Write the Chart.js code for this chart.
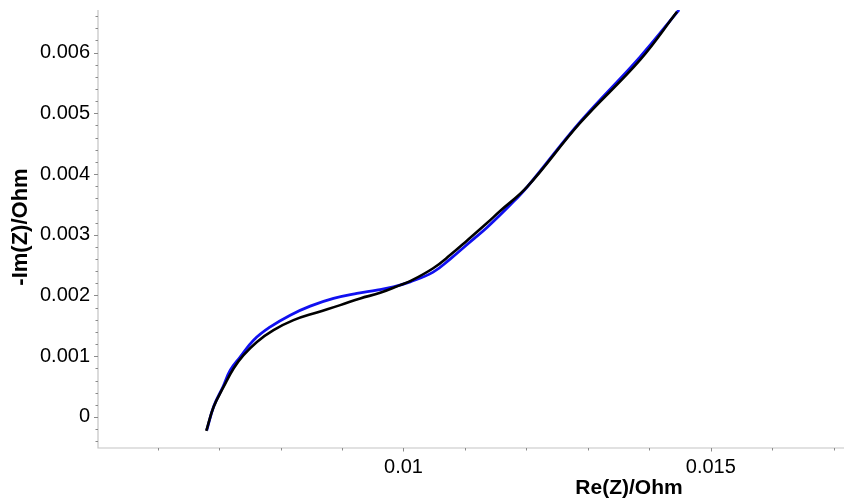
<!DOCTYPE html>
<html>
<head>
<meta charset="utf-8">
<script src="https://cdn.jsdelivr.net/npm/chart.js@4/dist/chart.umd.min.js"></script>
<style>
  html, body { margin: 0; padding: 0; background: #ffffff; }
  #wrap { width: 844px; height: 504px; position: relative; }
</style>
</head>
<body>
<div id="wrap"><canvas id="nyquist"></canvas></div>
<script>
// Nyquist spectra: real part (Ohm) and negative imaginary part (Ohm)
const blackRe = [0.006792, 0.006911, 0.007073, 0.007236, 0.007398, 0.007616, 0.007886, 0.008211, 0.008592, 0.008971, 0.009296, 0.009621, 0.009946, 0.010109, 0.010483, 0.010759, 0.011036, 0.011359, 0.011572, 0.012011, 0.012873, 0.013849, 0.014450];
const blackIm = [-0.000231, 0.000165, 0.000494, 0.000798, 0.001017, 0.001236, 0.001429, 0.001594, 0.001721, 0.001841, 0.001952, 0.002044, 0.002171, 0.002235, 0.002448, 0.002665, 0.002906, 0.003193, 0.003391, 0.003786, 0.004841, 0.005879, 0.006671];

const blueRe = [0.006800, 0.006914, 0.007068, 0.007182, 0.007345, 0.007561, 0.007833, 0.008158, 0.008483, 0.008862, 0.009242, 0.009567, 0.009837, 0.010109, 0.010483, 0.010759, 0.011036, 0.011359, 0.011735, 0.012011, 0.012873, 0.013849, 0.014483];
const blueIm = [-0.000219, 0.000176, 0.000506, 0.000770, 0.000989, 0.001264, 0.001483, 0.001676, 0.001825, 0.001952, 0.002034, 0.002088, 0.002143, 0.002225, 0.002385, 0.002599, 0.002840, 0.003120, 0.003489, 0.003786, 0.004857, 0.005929, 0.006703];

// Axis ranges and labelled ticks
const xRange = [0.005031, 0.017166];
const yRange = [-0.000511, 0.0067];
const xMajorTicks = [0.01, 0.015];
const xTickLabels = ['0.01', '0.015'];
const xMinorStep = 0.001;
const yMajorTicks = [0, 0.001, 0.002, 0.003, 0.004, 0.005, 0.006];
const yTickLabels = ['0', '0.001', '0.002', '0.003', '0.004', '0.005', '0.006'];
const yMinorStep = 0.0002;
const xTitle = 'Re(Z)/Ohm';
const yTitle = '-Im(Z)/Ohm';

const toPoints = (xs, ys) => xs.map((x, i) => ({ x: x, y: ys[i] }));

// Axis lines, major/minor tick marks and axis titles
const axesPlugin = {
  id: 'axesDecor',
  afterDraw(chart) {
    const { ctx, chartArea: a, scales: { x, y } } = chart;
    ctx.save();
    ctx.strokeStyle = '#c4c4c4';
    ctx.lineWidth = 1.2;
    ctx.beginPath();
    ctx.moveTo(a.left, a.top);
    ctx.lineTo(a.left, a.bottom);
    ctx.lineTo(chart.width, a.bottom);
    ctx.stroke();

    ctx.strokeStyle = '#8a8a8a';
    ctx.lineWidth = 1;
    // y ticks
    for (let v = Math.ceil(yRange[0] / yMinorStep) * yMinorStep; v <= yRange[1] + 1e-12; v += yMinorStep) {
      const major = yMajorTicks.some(t => Math.abs(t - v) < 1e-9);
      const py = Math.round(y.getPixelForValue(v)) + 0.5;
      ctx.beginPath();
      ctx.moveTo(a.left, py);
      ctx.lineTo(a.left - (major ? 4 : 2.5), py);
      ctx.stroke();
    }
    // x ticks
    for (let v = Math.ceil(xRange[0] / xMinorStep) * xMinorStep; v <= xRange[1] + 1e-12; v += xMinorStep) {
      const major = xMajorTicks.some(t => Math.abs(t - v) < 1e-9);
      const px = Math.round(x.getPixelForValue(v)) + 0.5;
      ctx.beginPath();
      ctx.moveTo(px, a.bottom);
      ctx.lineTo(px, a.bottom + (major ? 3.5 : 2.5));
      ctx.stroke();
    }

    // axis titles
    ctx.fillStyle = '#000000';
    ctx.textAlign = 'center';
    ctx.textBaseline = 'middle';
    ctx.font = 'bold 21px "Liberation Sans", Arial, sans-serif';
    ctx.fillText(xTitle, 629, 488);
    ctx.font = 'bold 22px "Liberation Sans", Arial, sans-serif';
    ctx.translate(21, 227);
    ctx.rotate(-Math.PI / 2);
    ctx.fillText(yTitle, 0, 0);
    ctx.restore();
  }
};

new Chart(document.getElementById('nyquist'), {
  type: 'scatter',
  data: {
    datasets: [
      {
        label: 'black',
        data: toPoints(blackRe, blackIm),
        showLine: true,
        borderColor: '#000000',
        borderWidth: 2.6,
        pointRadius: 0,
        tension: 0.4,
        fill: false
      },
      {
        label: 'blue',
        data: toPoints(blueRe, blueIm),
        showLine: true,
        borderColor: '#1010f0',
        borderWidth: 2.8,
        pointRadius: 0,
        tension: 0.4,
        fill: false
      }
    ]
  },
  options: {
    responsive: true,
    maintainAspectRatio: false,
    animation: false,
    layout: { padding: { top: 10, right: 0, left: 0, bottom: 0 } },
    plugins: { legend: { display: false }, tooltip: { enabled: false } },
    scales: {
      x: {
        type: 'linear',
        min: xRange[0],
        max: xRange[1],
        grid: { display: false, drawTicks: false },
        border: { display: false },
        afterFit(scale) { scale.height = 56; },
        afterBuildTicks(scale) { scale.ticks = xMajorTicks.map(v => ({ value: v })); },
        ticks: {
          padding: 7,
          color: '#000000',
          maxRotation: 0,
          autoSkip: false,
          font: { family: '"Liberation Sans", Arial, sans-serif', size: 20 },
          callback: (v) => { const i = xMajorTicks.findIndex(t => Math.abs(t - v) < 1e-9); return i >= 0 ? xTickLabels[i] : ''; }
        }
      },
      y: {
        type: 'linear',
        min: yRange[0],
        max: yRange[1],
        grid: { display: false, drawTicks: false },
        border: { display: false },
        afterFit(scale) {
          scale.width = 98;
          scale.paddingTop = 0;
          scale.paddingBottom = 0;
        },
        afterBuildTicks(scale) { scale.ticks = yMajorTicks.map(v => ({ value: v })); },
        ticks: {
          padding: 8,
          color: '#000000',
          autoSkip: false,
          font: { family: '"Liberation Sans", Arial, sans-serif', size: 20 },
          callback: (v) => { const i = yMajorTicks.findIndex(t => Math.abs(t - v) < 1e-9); return i >= 0 ? yTickLabels[i] : ''; }
        }
      }
    }
  },
  plugins: [axesPlugin]
});
</script>
</body>
</html>
